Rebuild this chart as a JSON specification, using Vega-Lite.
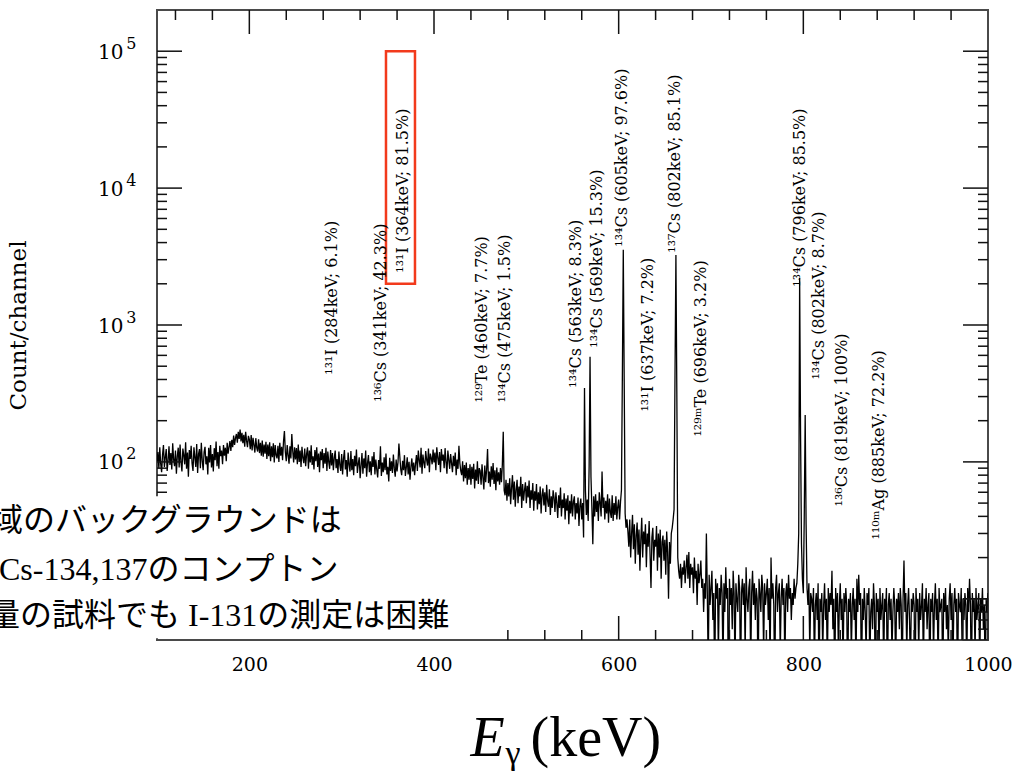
{
"$schema":"https://vega.github.io/schema/vega-lite/v6.json",
"width":831,"height":630,
"autosize":{"type":"none"},
"padding":{"left":157,"top":10,"right":30,"bottom":131},
"background":"white",
"config":{"view":{"stroke":"#4a4a4a","strokeWidth":2},"axis":{"grid":false,"zindex":0,"labelColor":"#000000","titleColor":"#000000","labelFont":"DejaVu Serif","titleFont":"DejaVu Serif","titleFontWeight":"normal","labelFlush":false,"labelOverlap":false}},
"datasets":{
"spectrum":[
{"e":100,"c":101},{"e":101,"c":118},{"e":102,"c":90},{"e":103,"c":128},{"e":104,"c":97},{"e":105,"c":84},{"e":106,"c":113},{"e":107,"c":133},{"e":108,"c":92},{"e":109,"c":108},
{"e":110,"c":124},{"e":111,"c":86},{"e":112,"c":102},{"e":113,"c":130},{"e":114,"c":95},{"e":115,"c":116},{"e":116,"c":88},{"e":117,"c":137},{"e":118,"c":104},{"e":119,"c":93},
{"e":120,"c":121},{"e":121,"c":82},{"e":122,"c":110},{"e":123,"c":127},{"e":124,"c":91},{"e":125,"c":134},{"e":126,"c":99},{"e":127,"c":85},{"e":128,"c":125},{"e":129,"c":112},
{"e":130,"c":96},{"e":131,"c":139},{"e":132,"c":89},{"e":133,"c":117},{"e":134,"c":78},{"e":135,"c":122},{"e":136,"c":105},{"e":137,"c":131},{"e":138,"c":97},{"e":139,"c":86},
{"e":140,"c":128},{"e":141,"c":108},{"e":142,"c":92},{"e":143,"c":135},{"e":144,"c":83},{"e":145,"c":114},{"e":146,"c":124},{"e":147,"c":90},{"e":148,"c":138},{"e":149,"c":102},
{"e":150,"c":87},{"e":151,"c":118},{"e":152,"c":129},{"e":153,"c":96},{"e":154,"c":110},{"e":155,"c":81},{"e":156,"c":127},{"e":157,"c":99},{"e":158,"c":133},{"e":159,"c":91},
{"e":160,"c":114},{"e":161,"c":85},{"e":162,"c":126},{"e":163,"c":103},{"e":164,"c":141},{"e":165,"c":93},{"e":166,"c":118},{"e":167,"c":89},{"e":168,"c":131},{"e":169,"c":110},
{"e":170,"c":121},{"e":171,"c":96},{"e":172,"c":133},{"e":173,"c":111},{"e":174,"c":127},{"e":175,"c":101},{"e":176,"c":138},{"e":177,"c":115},{"e":178,"c":128},{"e":179,"c":142},
{"e":180,"c":120},{"e":181,"c":145},{"e":182,"c":128},{"e":183,"c":156},{"e":184,"c":133},{"e":185,"c":149},{"e":186,"c":160},{"e":187,"c":138},{"e":188,"c":166},{"e":189,"c":147},
{"e":190,"c":172},{"e":191,"c":141},{"e":192,"c":163},{"e":193,"c":137},{"e":194,"c":158},{"e":195,"c":129},{"e":196,"c":166},{"e":197,"c":143},{"e":198,"c":128},{"e":199,"c":155},
{"e":200,"c":146},{"e":201,"c":124},{"e":202,"c":157},{"e":203,"c":121},{"e":204,"c":150},{"e":205,"c":133},{"e":206,"c":117},{"e":207,"c":149},{"e":208,"c":127},{"e":209,"c":119},
{"e":210,"c":146},{"e":211,"c":116},{"e":212,"c":138},{"e":213,"c":111},{"e":214,"c":143},{"e":215,"c":109},{"e":216,"c":134},{"e":217,"c":115},{"e":218,"c":140},{"e":219,"c":105},
{"e":220,"c":134},{"e":221,"c":110},{"e":222,"c":139},{"e":223,"c":101},{"e":224,"c":130},{"e":225,"c":108},{"e":226,"c":137},{"e":227,"c":99},{"e":228,"c":133},{"e":229,"c":112},
{"e":230,"c":106},{"e":231,"c":131},{"e":232,"c":100},{"e":233,"c":138},{"e":234,"c":111},{"e":235,"c":129},{"e":236,"c":103},{"e":237,"c":141},{"e":238,"c":168},{"e":239,"c":118},
{"e":240,"c":101},{"e":241,"c":133},{"e":242,"c":112},{"e":243,"c":97},{"e":244,"c":130},{"e":245,"c":106},{"e":246,"c":160},{"e":247,"c":120},{"e":248,"c":99},{"e":249,"c":128},
{"e":250,"c":104},{"e":251,"c":126},{"e":252,"c":96},{"e":253,"c":134},{"e":254,"c":100},{"e":255,"c":121},{"e":256,"c":92},{"e":257,"c":129},{"e":258,"c":107},{"e":259,"c":98},
{"e":260,"c":125},{"e":261,"c":93},{"e":262,"c":114},{"e":263,"c":128},{"e":264,"c":89},{"e":265,"c":121},{"e":266,"c":99},{"e":267,"c":132},{"e":268,"c":95},{"e":269,"c":110},
{"e":270,"c":88},{"e":271,"c":122},{"e":272,"c":101},{"e":273,"c":128},{"e":274,"c":92},{"e":275,"c":115},{"e":276,"c":84},{"e":277,"c":119},{"e":278,"c":103},{"e":279,"c":124},
{"e":280,"c":90},{"e":281,"c":116},{"e":282,"c":97},{"e":283,"c":127},{"e":284,"c":86},{"e":285,"c":119},{"e":286,"c":100},{"e":287,"c":89},{"e":288,"c":122},{"e":289,"c":94},
{"e":290,"c":116},{"e":291,"c":87},{"e":292,"c":107},{"e":293,"c":121},{"e":294,"c":90},{"e":295,"c":105},{"e":296,"c":83},{"e":297,"c":119},{"e":298,"c":95},{"e":299,"c":86},
{"e":300,"c":114},{"e":301,"c":81},{"e":302,"c":106},{"e":303,"c":122},{"e":304,"c":88},{"e":305,"c":103},{"e":306,"c":78},{"e":307,"c":117},{"e":308,"c":96},{"e":309,"c":85},
{"e":310,"c":120},{"e":311,"c":87},{"e":312,"c":105},{"e":313,"c":80},{"e":314,"c":111},{"e":315,"c":93},{"e":316,"c":123},{"e":317,"c":83},{"e":318,"c":97},{"e":319,"c":108},
{"e":320,"c":76},{"e":321,"c":94},{"e":322,"c":116},{"e":323,"c":82},{"e":324,"c":106},{"e":325,"c":90},{"e":326,"c":121},{"e":327,"c":78},{"e":328,"c":98},{"e":329,"c":112},
{"e":330,"c":84},{"e":331,"c":101},{"e":332,"c":80},{"e":333,"c":110},{"e":334,"c":92},{"e":335,"c":118},{"e":336,"c":81},{"e":337,"c":104},{"e":338,"c":88},{"e":339,"c":77},
{"e":340,"c":103},{"e":341,"c":89},{"e":342,"c":130},{"e":343,"c":79},{"e":344,"c":99},{"e":345,"c":84},{"e":346,"c":108},{"e":347,"c":87},{"e":348,"c":115},{"e":349,"c":81},
{"e":350,"c":92},{"e":351,"c":72},{"e":352,"c":107},{"e":353,"c":86},{"e":354,"c":101},{"e":355,"c":83},{"e":356,"c":113},{"e":357,"c":90},{"e":358,"c":78},{"e":359,"c":104},
{"e":360,"c":85},{"e":361,"c":99},{"e":362,"c":136},{"e":363,"c":109},{"e":364,"c":88},{"e":365,"c":80},{"e":366,"c":102},{"e":367,"c":87},{"e":368,"c":112},{"e":369,"c":79},
{"e":370,"c":91},{"e":371,"c":108},{"e":372,"c":81},{"e":373,"c":100},{"e":374,"c":74},{"e":375,"c":92},{"e":376,"c":106},{"e":377,"c":85},{"e":378,"c":99},{"e":379,"c":80},
{"e":380,"c":97},{"e":381,"c":112},{"e":382,"c":86},{"e":383,"c":121},{"e":384,"c":103},{"e":385,"c":91},{"e":386,"c":127},{"e":387,"c":82},{"e":388,"c":113},{"e":389,"c":99},
{"e":390,"c":90},{"e":391,"c":120},{"e":392,"c":104},{"e":393,"c":94},{"e":394,"c":125},{"e":395,"c":84},{"e":396,"c":115},{"e":397,"c":107},{"e":398,"c":96},{"e":399,"c":123},
{"e":400,"c":99},{"e":401,"c":117},{"e":402,"c":87},{"e":403,"c":128},{"e":404,"c":108},{"e":405,"c":95},{"e":406,"c":118},{"e":407,"c":84},{"e":408,"c":124},{"e":409,"c":102},
{"e":410,"c":113},{"e":411,"c":90},{"e":412,"c":126},{"e":413,"c":100},{"e":414,"c":82},{"e":415,"c":121},{"e":416,"c":104},{"e":417,"c":89},{"e":418,"c":114},{"e":419,"c":98},
{"e":420,"c":84},{"e":421,"c":111},{"e":422,"c":93},{"e":423,"c":117},{"e":424,"c":80},{"e":425,"c":104},{"e":426,"c":89},{"e":427,"c":131},{"e":428,"c":98},{"e":429,"c":86},
{"e":430,"c":80},{"e":431,"c":101},{"e":432,"c":72},{"e":433,"c":95},{"e":434,"c":76},{"e":435,"c":99},{"e":436,"c":68},{"e":437,"c":90},{"e":438,"c":74},{"e":439,"c":96},
{"e":440,"c":68},{"e":441,"c":92},{"e":442,"c":75},{"e":443,"c":97},{"e":444,"c":64},{"e":445,"c":88},{"e":446,"c":73},{"e":447,"c":101},{"e":448,"c":69},{"e":449,"c":90},
{"e":450,"c":86},{"e":451,"c":68},{"e":452,"c":96},{"e":453,"c":77},{"e":454,"c":63},{"e":455,"c":94},{"e":456,"c":71},{"e":457,"c":88},{"e":458,"c":124},{"e":459,"c":70},
{"e":460,"c":85},{"e":461,"c":66},{"e":462,"c":93},{"e":463,"c":74},{"e":464,"c":98},{"e":465,"c":69},{"e":466,"c":87},{"e":467,"c":62},{"e":468,"c":91},{"e":469,"c":72},
{"e":470,"c":84},{"e":471,"c":68},{"e":472,"c":90},{"e":473,"c":71},{"e":474,"c":95},{"e":475,"c":166},{"e":476,"c":62},{"e":477,"c":57},{"e":478,"c":74},{"e":479,"c":52},
{"e":480,"c":70},{"e":481,"c":56},{"e":482,"c":76},{"e":483,"c":49},{"e":484,"c":65},{"e":485,"c":80},{"e":486,"c":53},{"e":487,"c":72},{"e":488,"c":47},{"e":489,"c":63},
{"e":490,"c":74},{"e":491,"c":50},{"e":492,"c":66},{"e":493,"c":56},{"e":494,"c":78},{"e":495,"c":46},{"e":496,"c":69},{"e":497,"c":52},{"e":498,"c":62},{"e":499,"c":71},
{"e":500,"c":50},{"e":501,"c":67},{"e":502,"c":55},{"e":503,"c":73},{"e":504,"c":46},{"e":505,"c":62},{"e":506,"c":53},{"e":507,"c":70},{"e":508,"c":44},{"e":509,"c":61},
{"e":510,"c":52},{"e":511,"c":69},{"e":512,"c":45},{"e":513,"c":60},{"e":514,"c":49},{"e":515,"c":66},{"e":516,"c":42},{"e":517,"c":57},{"e":518,"c":64},{"e":519,"c":48},
{"e":520,"c":60},{"e":521,"c":43},{"e":522,"c":68},{"e":523,"c":52},{"e":524,"c":47},{"e":525,"c":63},{"e":526,"c":41},{"e":527,"c":56},{"e":528,"c":46},{"e":529,"c":62},
{"e":530,"c":55},{"e":531,"c":43},{"e":532,"c":60},{"e":533,"c":50},{"e":534,"c":39},{"e":535,"c":57},{"e":536,"c":46},{"e":537,"c":65},{"e":538,"c":40},{"e":539,"c":53},
{"e":540,"c":46},{"e":541,"c":59},{"e":542,"c":38},{"e":543,"c":54},{"e":544,"c":44},{"e":545,"c":57},{"e":546,"c":35},{"e":547,"c":52},{"e":548,"c":42},{"e":549,"c":58},
{"e":550,"c":40},{"e":551,"c":51},{"e":552,"c":56},{"e":553,"c":38},{"e":554,"c":50},{"e":555,"c":42},{"e":556,"c":55},{"e":557,"c":34},{"e":558,"c":48},{"e":559,"c":54},
{"e":560,"c":38},{"e":561,"c":50},{"e":562,"c":28},{"e":563,"c":347},{"e":564,"c":62},{"e":565,"c":41},{"e":566,"c":53},{"e":567,"c":37},{"e":568,"c":92},{"e":569,"c":585},
{"e":570,"c":78},{"e":571,"c":46},{"e":572,"c":25},{"e":573,"c":56},{"e":574,"c":40},{"e":575,"c":58},{"e":576,"c":43},{"e":577,"c":52},{"e":578,"c":37},{"e":579,"c":60},
{"e":580,"c":50},{"e":581,"c":40},{"e":582,"c":85},{"e":583,"c":46},{"e":584,"c":55},{"e":585,"c":38},{"e":586,"c":52},{"e":587,"c":42},{"e":588,"c":58},{"e":589,"c":36},
{"e":590,"c":54},{"e":591,"c":43},{"e":592,"c":39},{"e":593,"c":57},{"e":594,"c":37},{"e":595,"c":50},{"e":596,"c":41},{"e":597,"c":56},{"e":598,"c":38},{"e":599,"c":47},
{"e":600,"c":53},{"e":601,"c":38},{"e":602,"c":51},{"e":603,"c":62},{"e":604,"c":420},{"e":605,"c":3550},{"e":606,"c":380},{"e":607,"c":42},{"e":608,"c":33},{"e":609,"c":38},
{"e":610,"c":31},{"e":611,"c":24},{"e":612,"c":38},{"e":613,"c":20},{"e":614,"c":30},{"e":615,"c":41},{"e":616,"c":23},{"e":617,"c":35},{"e":618,"c":18},{"e":619,"c":29},
{"e":620,"c":36},{"e":621,"c":21},{"e":622,"c":32},{"e":623,"c":16},{"e":624,"c":27},{"e":625,"c":39},{"e":626,"c":20},{"e":627,"c":31},{"e":628,"c":25},{"e":629,"c":35},
{"e":630,"c":17},{"e":631,"c":30},{"e":632,"c":24},{"e":633,"c":37},{"e":634,"c":21},{"e":635,"c":12},{"e":636,"c":28},{"e":637,"c":33},{"e":638,"c":19},{"e":639,"c":27},
{"e":640,"c":24},{"e":641,"c":34},{"e":642,"c":16},{"e":643,"c":30},{"e":644,"c":20},{"e":645,"c":32},{"e":646,"c":14},{"e":647,"c":26},{"e":648,"c":29},{"e":649,"c":19},
{"e":650,"c":27},{"e":651,"c":15},{"e":652,"c":31},{"e":653,"c":22},{"e":654,"c":10},{"e":655,"c":26},{"e":656,"c":18},{"e":657,"c":30},{"e":658,"c":33},{"e":659,"c":38},
{"e":660,"c":45},{"e":661,"c":420},{"e":662,"c":3240},{"e":663,"c":310},{"e":664,"c":20},{"e":665,"c":16},{"e":666,"c":14},{"e":667,"c":18},{"e":668,"c":12},{"e":669,"c":17},
{"e":670,"c":15},{"e":671,"c":19},{"e":672,"c":13},{"e":673,"c":17},{"e":674,"c":21},{"e":675,"c":14},{"e":676,"c":22},{"e":677,"c":12},{"e":678,"c":18},{"e":679,"c":15},
{"e":680,"c":17},{"e":681,"c":11},{"e":682,"c":20},{"e":683,"c":14},{"e":684,"c":16},{"e":685,"c":9},{"e":686,"c":18},{"e":687,"c":13},{"e":688,"c":15},{"e":689,"c":19},
{"e":690,"c":12},{"e":691,"c":14},{"e":692,"c":8},{"e":693,"c":13},{"e":694,"c":10},{"e":695,"c":30},{"e":696,"c":11},{"e":697,"c":3},{"e":698,"c":15},{"e":699,"c":9},
{"e":700,"c":12},{"e":701,"c":16},{"e":702,"c":7},{"e":703,"c":11},{"e":704,"c":2},{"e":705,"c":14},{"e":706,"c":10},{"e":707,"c":13},{"e":708,"c":4},{"e":709,"c":12},
{"e":710,"c":9},{"e":711,"c":15},{"e":712,"c":11},{"e":713,"c":3},{"e":714,"c":13},{"e":715,"c":8},{"e":716,"c":17},{"e":717,"c":10},{"e":718,"c":12},{"e":719,"c":1},
{"e":720,"c":14},{"e":721,"c":9},{"e":722,"c":12},{"e":723,"c":6},{"e":724,"c":16},{"e":725,"c":11},{"e":726,"c":3},{"e":727,"c":13},{"e":728,"c":10},{"e":729,"c":8},
{"e":730,"c":15},{"e":731,"c":12},{"e":732,"c":2},{"e":733,"c":11},{"e":734,"c":14},{"e":735,"c":9},{"e":736,"c":13},{"e":737,"c":4},{"e":738,"c":17},{"e":739,"c":10},
{"e":740,"c":8},{"e":741,"c":12},{"e":742,"c":14},{"e":743,"c":3},{"e":744,"c":11},{"e":745,"c":16},{"e":746,"c":9},{"e":747,"c":13},{"e":748,"c":7},{"e":749,"c":12},
{"e":750,"c":10},{"e":751,"c":2},{"e":752,"c":14},{"e":753,"c":11},{"e":754,"c":8},{"e":755,"c":15},{"e":756,"c":12},{"e":757,"c":4},{"e":758,"c":13},{"e":759,"c":9},
{"e":760,"c":11},{"e":761,"c":14},{"e":762,"c":7},{"e":763,"c":12},{"e":764,"c":3},{"e":765,"c":20},{"e":766,"c":10},{"e":767,"c":13},{"e":768,"c":9},{"e":769,"c":2},
{"e":770,"c":12},{"e":771,"c":15},{"e":772,"c":8},{"e":773,"c":11},{"e":774,"c":13},{"e":775,"c":4},{"e":776,"c":10},{"e":777,"c":14},{"e":778,"c":9},{"e":779,"c":12},
{"e":780,"c":3},{"e":781,"c":11},{"e":782,"c":13},{"e":783,"c":8},{"e":784,"c":15},{"e":785,"c":10},{"e":786,"c":12},{"e":787,"c":7},{"e":788,"c":11},{"e":789,"c":9},
{"e":790,"c":14},{"e":791,"c":10},{"e":792,"c":12},{"e":793,"c":13},{"e":794,"c":18},{"e":795,"c":30},{"e":796,"c":2200},{"e":797,"c":160},{"e":798,"c":25},{"e":799,"c":14},
{"e":800,"c":11},{"e":801,"c":40},{"e":802,"c":220},{"e":803,"c":35},{"e":804,"c":12},{"e":805,"c":9},{"e":806,"c":13},{"e":807,"c":4},{"e":808,"c":11},{"e":809,"c":10},
{"e":810,"c":8},{"e":811,"c":12},{"e":812,"c":3},{"e":813,"c":9},{"e":814,"c":11},{"e":815,"c":7},{"e":816,"c":13},{"e":817,"c":2},{"e":818,"c":10},{"e":819,"c":8},
{"e":820,"c":11},{"e":821,"c":4},{"e":822,"c":9},{"e":823,"c":13},{"e":824,"c":7},{"e":825,"c":10},{"e":826,"c":3},{"e":827,"c":12},{"e":828,"c":8},{"e":829,"c":11},
{"e":830,"c":9},{"e":831,"c":16},{"e":832,"c":6},{"e":833,"c":10},{"e":834,"c":2},{"e":835,"c":12},{"e":836,"c":8},{"e":837,"c":11},{"e":838,"c":4},{"e":839,"c":9},
{"e":840,"c":13},{"e":841,"c":7},{"e":842,"c":10},{"e":843,"c":3},{"e":844,"c":11},{"e":845,"c":8},{"e":846,"c":12},{"e":847,"c":9},{"e":848,"c":2},{"e":849,"c":10},
{"e":850,"c":8},{"e":851,"c":11},{"e":852,"c":4},{"e":853,"c":9},{"e":854,"c":12},{"e":855,"c":7},{"e":856,"c":10},{"e":857,"c":3},{"e":858,"c":14},{"e":859,"c":8},
{"e":860,"c":15},{"e":861,"c":9},{"e":862,"c":11},{"e":863,"c":2},{"e":864,"c":10},{"e":865,"c":7},{"e":866,"c":12},{"e":867,"c":8},{"e":868,"c":4},{"e":869,"c":11},
{"e":870,"c":9},{"e":871,"c":12},{"e":872,"c":3},{"e":873,"c":8},{"e":874,"c":10},{"e":875,"c":6},{"e":876,"c":13},{"e":877,"c":9},{"e":878,"c":2},{"e":879,"c":11},
{"e":880,"c":8},{"e":881,"c":10},{"e":882,"c":4},{"e":883,"c":12},{"e":884,"c":7},{"e":885,"c":9},{"e":886,"c":11},{"e":887,"c":3},{"e":888,"c":10},{"e":889,"c":8},
{"e":890,"c":12},{"e":891,"c":2},{"e":892,"c":9},{"e":893,"c":11},{"e":894,"c":7},{"e":895,"c":10},{"e":896,"c":4},{"e":897,"c":8},{"e":898,"c":12},{"e":899,"c":9},
{"e":900,"c":3},{"e":901,"c":10},{"e":902,"c":8},{"e":903,"c":11},{"e":904,"c":6},{"e":905,"c":12},{"e":906,"c":9},{"e":907,"c":2},{"e":908,"c":10},{"e":909,"c":19},
{"e":910,"c":8},{"e":911,"c":11},{"e":912,"c":4},{"e":913,"c":9},{"e":914,"c":12},{"e":915,"c":7},{"e":916,"c":3},{"e":917,"c":10},{"e":918,"c":8},{"e":919,"c":11},
{"e":920,"c":9},{"e":921,"c":2},{"e":922,"c":12},{"e":923,"c":8},{"e":924,"c":10},{"e":925,"c":4},{"e":926,"c":11},{"e":927,"c":7},{"e":928,"c":9},{"e":929,"c":13},
{"e":930,"c":3},{"e":931,"c":10},{"e":932,"c":8},{"e":933,"c":12},{"e":934,"c":6},{"e":935,"c":9},{"e":936,"c":11},{"e":937,"c":2},{"e":938,"c":10},{"e":939,"c":8},
{"e":940,"c":11},{"e":941,"c":4},{"e":942,"c":9},{"e":943,"c":13},{"e":944,"c":7},{"e":945,"c":10},{"e":946,"c":3},{"e":947,"c":12},{"e":948,"c":8},{"e":949,"c":9},
{"e":950,"c":10},{"e":951,"c":2},{"e":952,"c":11},{"e":953,"c":8},{"e":954,"c":12},{"e":955,"c":6},{"e":956,"c":9},{"e":957,"c":4},{"e":958,"c":10},{"e":959,"c":13},
{"e":960,"c":7},{"e":961,"c":11},{"e":962,"c":3},{"e":963,"c":9},{"e":964,"c":12},{"e":965,"c":8},{"e":966,"c":10},{"e":967,"c":2},{"e":968,"c":11},{"e":969,"c":9},
{"e":970,"c":8},{"e":971,"c":12},{"e":972,"c":4},{"e":973,"c":10},{"e":974,"c":7},{"e":975,"c":11},{"e":976,"c":9},{"e":977,"c":3},{"e":978,"c":12},{"e":979,"c":8},
{"e":980,"c":14},{"e":981,"c":9},{"e":982,"c":2},{"e":983,"c":11},{"e":984,"c":8},{"e":985,"c":10},{"e":986,"c":4},{"e":987,"c":12},{"e":988,"c":7},{"e":989,"c":9},
{"e":990,"c":11},{"e":991,"c":3},{"e":992,"c":10},{"e":993,"c":8},{"e":994,"c":12},{"e":995,"c":6},{"e":996,"c":9},{"e":997,"c":2},{"e":998,"c":10},{"e":999,"c":8},
{"e":1000,"c":11}
],
"xmajor":[{"x":200},{"x":400},{"x":600},{"x":800}],
"xminor":[{"x":120},{"x":160},{"x":240},{"x":280},{"x":320},{"x":360},{"x":440},{"x":480},{"x":520},{"x":560},{"x":640},{"x":680},{"x":720},{"x":760},{"x":840},{"x":880},{"x":920},{"x":960}],
"ymajor":[{"y":10},{"y":100},{"y":1000},{"y":10000},{"y":100000}],
"yminor":[{"y":6},{"y":7},{"y":8},{"y":9},{"y":20},{"y":30},{"y":40},{"y":50},{"y":60},{"y":70},{"y":80},{"y":90},{"y":200},{"y":300},{"y":400},{"y":500},{"y":600},{"y":700},{"y":800},{"y":900},{"y":2000},{"y":3000},{"y":4000},{"y":5000},{"y":6000},{"y":7000},{"y":8000},{"y":9000},{"y":20000},{"y":30000},{"y":40000},{"y":50000},{"y":60000},{"y":70000},{"y":80000},{"y":90000}],
"lines":[
{"t":"¹³¹I (284keV; 6.1%)","x":290,"y":433},
{"t":"¹³⁶Cs (341keV; 42.3%)","x":342.6,"y":275},
{"t":"¹³¹I (364keV; 81.5%)","x":366.8,"y":2410},
{"t":"¹²⁹Te (460keV; 7.7%)","x":451.7,"y":271},
{"t":"¹³⁴Cs (475keV; 1.5%)","x":476.9,"y":271},
{"t":"¹³⁴Cs (563keV; 8.3%)","x":553.5,"y":348},
{"t":"¹³⁴Cs (569keV; 15.3%)","x":576.2,"y":682},
{"t":"¹³⁴Cs (605keV; 97.6%)","x":603.3,"y":3730},
{"t":"¹³¹I (637keV; 7.2%)","x":632.1,"y":233},
{"t":"¹³⁷Cs (802keV; 85.1%)","x":661,"y":3370},
{"t":"¹²⁹ᵐTe (696keV; 3.2%)","x":688.9,"y":153},
{"t":"¹³⁴Cs (796keV; 85.5%)","x":796.4,"y":1906},
{"t":"¹³⁴Cs (802keV; 8.7%)","x":817.3,"y":399},
{"t":"¹³⁶Cs (819keV; 100%)","x":841.6,"y":47.2},
{"t":"¹¹⁰ᵐAg (885keV; 72.2%)","x":882,"y":27.1}
],
"notes":[
{"t":"域のバックグラウンドは","x":-79.8,"y":36.7},
{"t":"Cs-134,137のコンプトン","x":-71.2,"y":16.1},
{"t":"量の試料でも I-131の測定は困難","x":-83,"y":7.43}
],
"cover":[{"x":-110,"x2":461,"y":5.15,"y2":56}],
"highlight":[{"x":348,"x2":379.4,"y":2000,"y2":100000}],
"corner":[{"x":973,"x2":1000,"y":5,"y2":10}]
},
"resolve":{"axis":{"x":"independent","y":"independent"}},
"layer":[
{
"data":{"name":"spectrum"},
"mark":{"type":"line","color":"#000000","strokeWidth":1.3,"clip":true},
"encoding":{
"x":{"field":"e","type":"quantitative","scale":{"domain":[100,1000],"nice":false,"zero":false},
"axis":{"orient":"bottom","values":[200,400,600,800,1000],"format":"d","ticks":false,"domain":false,"labelPadding":15,"labelFontSize":19,"title":"E","titleX":313,"titleY":115,"titleAlign":"left","titleBaseline":"alphabetic","titleFont":"Liberation Serif","titleFontStyle":"italic","titleFontSize":56}},
"y":{"field":"c","type":"quantitative","scale":{"type":"log","domain":[5,200000],"nice":false},
"axis":{"orient":"left","values":[10,100,1000,10000,100000],"ticks":false,"domain":false,"labelPadding":34,"labelFontSize":20,"labelBaseline":"middle","labelOffset":1,"labelExpr":"'10'","title":"Count/channel","titleX":-139,"titleY":315,"titleAngle":270,"titleAlign":"center","titleBaseline":"middle","titleFontSize":23}}
}
},
{
"data":{"name":"cover"},
"mark":{"type":"rect","fill":"#ffffff"},
"encoding":{
"x":{"field":"x","type":"quantitative","scale":{"domain":[100,1000],"nice":false,"zero":false},
"axis":{"orient":"bottom","ticks":false,"labels":false,"domain":false,"title":"(keV)","titleX":373,"titleY":115,"titleAlign":"left","titleBaseline":"alphabetic","titleFont":"Liberation Serif","titleFontSize":56}},
"x2":{"field":"x2"},
"y":{"field":"y","type":"quantitative","scale":{"type":"log","domain":[5,200000],"nice":false},"axis":null},
"y2":{"field":"y2"}
}
},
{
"data":{"name":"notes"},
"mark":{"type":"text","align":"left","baseline":"middle","font":"'Liberation Serif', 'Noto Sans CJK JP'","fontSize":32,"color":"#000000"},
"encoding":{
"x":{"field":"x","type":"quantitative","scale":{"domain":[100,1000],"nice":false,"zero":false},"axis":null},
"y":{"field":"y","type":"quantitative","scale":{"type":"log","domain":[5,200000],"nice":false},"axis":null},
"text":{"field":"t"}
}
},
{
"data":{"name":"highlight"},
"mark":{"type":"rect","fill":null,"stroke":"#f23a1c","strokeWidth":2.5},
"encoding":{
"x":{"field":"x","type":"quantitative","scale":{"domain":[100,1000],"nice":false,"zero":false},"axis":null},
"x2":{"field":"x2"},
"y":{"field":"y","type":"quantitative","scale":{"type":"log","domain":[5,200000],"nice":false},"axis":null},
"y2":{"field":"y2"}
}
},
{
"data":{"name":"lines"},
"mark":{"type":"text","angle":270,"align":"left","baseline":"middle","font":"DejaVu Serif","fontSize":16,"color":"#000000"},
"encoding":{
"x":{"field":"x","type":"quantitative","scale":{"domain":[100,1000],"nice":false,"zero":false},"axis":null},
"y":{"field":"y","type":"quantitative","scale":{"type":"log","domain":[5,200000],"nice":false},"axis":null},
"text":{"field":"t"}
}
},
{
"data":{"name":"corner"},
"mark":{"type":"rect","fill":null,"stroke":"#222222","strokeWidth":1.2},
"encoding":{
"x":{"field":"x","type":"quantitative","scale":{"domain":[100,1000],"nice":false,"zero":false},"axis":null},
"x2":{"field":"x2"},
"y":{"field":"y","type":"quantitative","scale":{"type":"log","domain":[5,200000],"nice":false},
"axis":{"orient":"left","values":[10,100,1000,10000,100000],"ticks":false,"domain":false,"labelPadding":21,"labelFontSize":16,"labelBaseline":"middle","labelOffset":-8,"labelExpr":"datum.value == 10 ? '1' : datum.value == 100 ? '2' : datum.value == 1000 ? '3' : datum.value == 10000 ? '4' : '5'","title":"γ","titleX":348,"titleY":753,"titleAngle":0,"titleAlign":"left","titleBaseline":"alphabetic","titleFont":"Liberation Serif","titleFontSize":34}},
"y2":{"field":"y2"}
}
},
{
"data":{"name":"ymajor"},
"mark":{"type":"tick","orient":"horizontal","size":25,"thickness":1.5,"color":"#111111","opacity":1,"xOffset":-12.5},
"encoding":{
"x":{"datum":1000,"type":"quantitative","scale":{"domain":[100,1000],"nice":false,"zero":false},"axis":null},
"y":{"field":"y","type":"quantitative","scale":{"type":"log","domain":[5,200000],"nice":false},"axis":null}
}
},
{
"data":{"name":"yminor"},
"mark":{"type":"tick","orient":"horizontal","size":10,"thickness":1.5,"color":"#111111","opacity":1,"xOffset":-5},
"encoding":{
"x":{"datum":1000,"type":"quantitative","scale":{"domain":[100,1000],"nice":false,"zero":false},"axis":null},
"y":{"field":"y","type":"quantitative","scale":{"type":"log","domain":[5,200000],"nice":false},"axis":null}
}
},
{
"data":{"name":"ymajor"},
"transform":[{"filter":"datum.y > 56"}],
"mark":{"type":"tick","orient":"horizontal","size":25,"thickness":1.5,"color":"#111111","opacity":1,"xOffset":12.5},
"encoding":{
"x":{"datum":100,"type":"quantitative","scale":{"domain":[100,1000],"nice":false,"zero":false},"axis":null},
"y":{"field":"y","type":"quantitative","scale":{"type":"log","domain":[5,200000],"nice":false},"axis":null}
}
},
{
"data":{"name":"yminor"},
"transform":[{"filter":"datum.y > 56"}],
"mark":{"type":"tick","orient":"horizontal","size":10,"thickness":1.5,"color":"#111111","opacity":1,"xOffset":5},
"encoding":{
"x":{"datum":100,"type":"quantitative","scale":{"domain":[100,1000],"nice":false,"zero":false},"axis":null},
"y":{"field":"y","type":"quantitative","scale":{"type":"log","domain":[5,200000],"nice":false},"axis":null}
}
},
{
"data":{"name":"xmajor"},
"mark":{"type":"tick","orient":"vertical","size":24,"thickness":1.5,"color":"#111111","opacity":1,"yOffset":12},
"encoding":{
"x":{"field":"x","type":"quantitative","scale":{"domain":[100,1000],"nice":false,"zero":false},"axis":null},
"y":{"datum":200000,"type":"quantitative","scale":{"type":"log","domain":[5,200000],"nice":false},"axis":null}
}
},
{
"data":{"name":"xminor"},
"mark":{"type":"tick","orient":"vertical","size":10,"thickness":1.5,"color":"#111111","opacity":1,"yOffset":5},
"encoding":{
"x":{"field":"x","type":"quantitative","scale":{"domain":[100,1000],"nice":false,"zero":false},"axis":null},
"y":{"datum":200000,"type":"quantitative","scale":{"type":"log","domain":[5,200000],"nice":false},"axis":null}
}
},
{
"data":{"name":"xmajor"},
"transform":[{"filter":"datum.x > 461"}],
"mark":{"type":"tick","orient":"vertical","size":24,"thickness":1.5,"color":"#111111","opacity":1,"yOffset":-12},
"encoding":{
"x":{"field":"x","type":"quantitative","scale":{"domain":[100,1000],"nice":false,"zero":false},"axis":null},
"y":{"datum":5,"type":"quantitative","scale":{"type":"log","domain":[5,200000],"nice":false},"axis":null}
}
},
{
"data":{"name":"xminor"},
"transform":[{"filter":"datum.x > 461"}],
"mark":{"type":"tick","orient":"vertical","size":10,"thickness":1.5,"color":"#111111","opacity":1,"yOffset":-5},
"encoding":{
"x":{"field":"x","type":"quantitative","scale":{"domain":[100,1000],"nice":false,"zero":false},"axis":null},
"y":{"datum":5,"type":"quantitative","scale":{"type":"log","domain":[5,200000],"nice":false},"axis":null}
}
}
]
}
